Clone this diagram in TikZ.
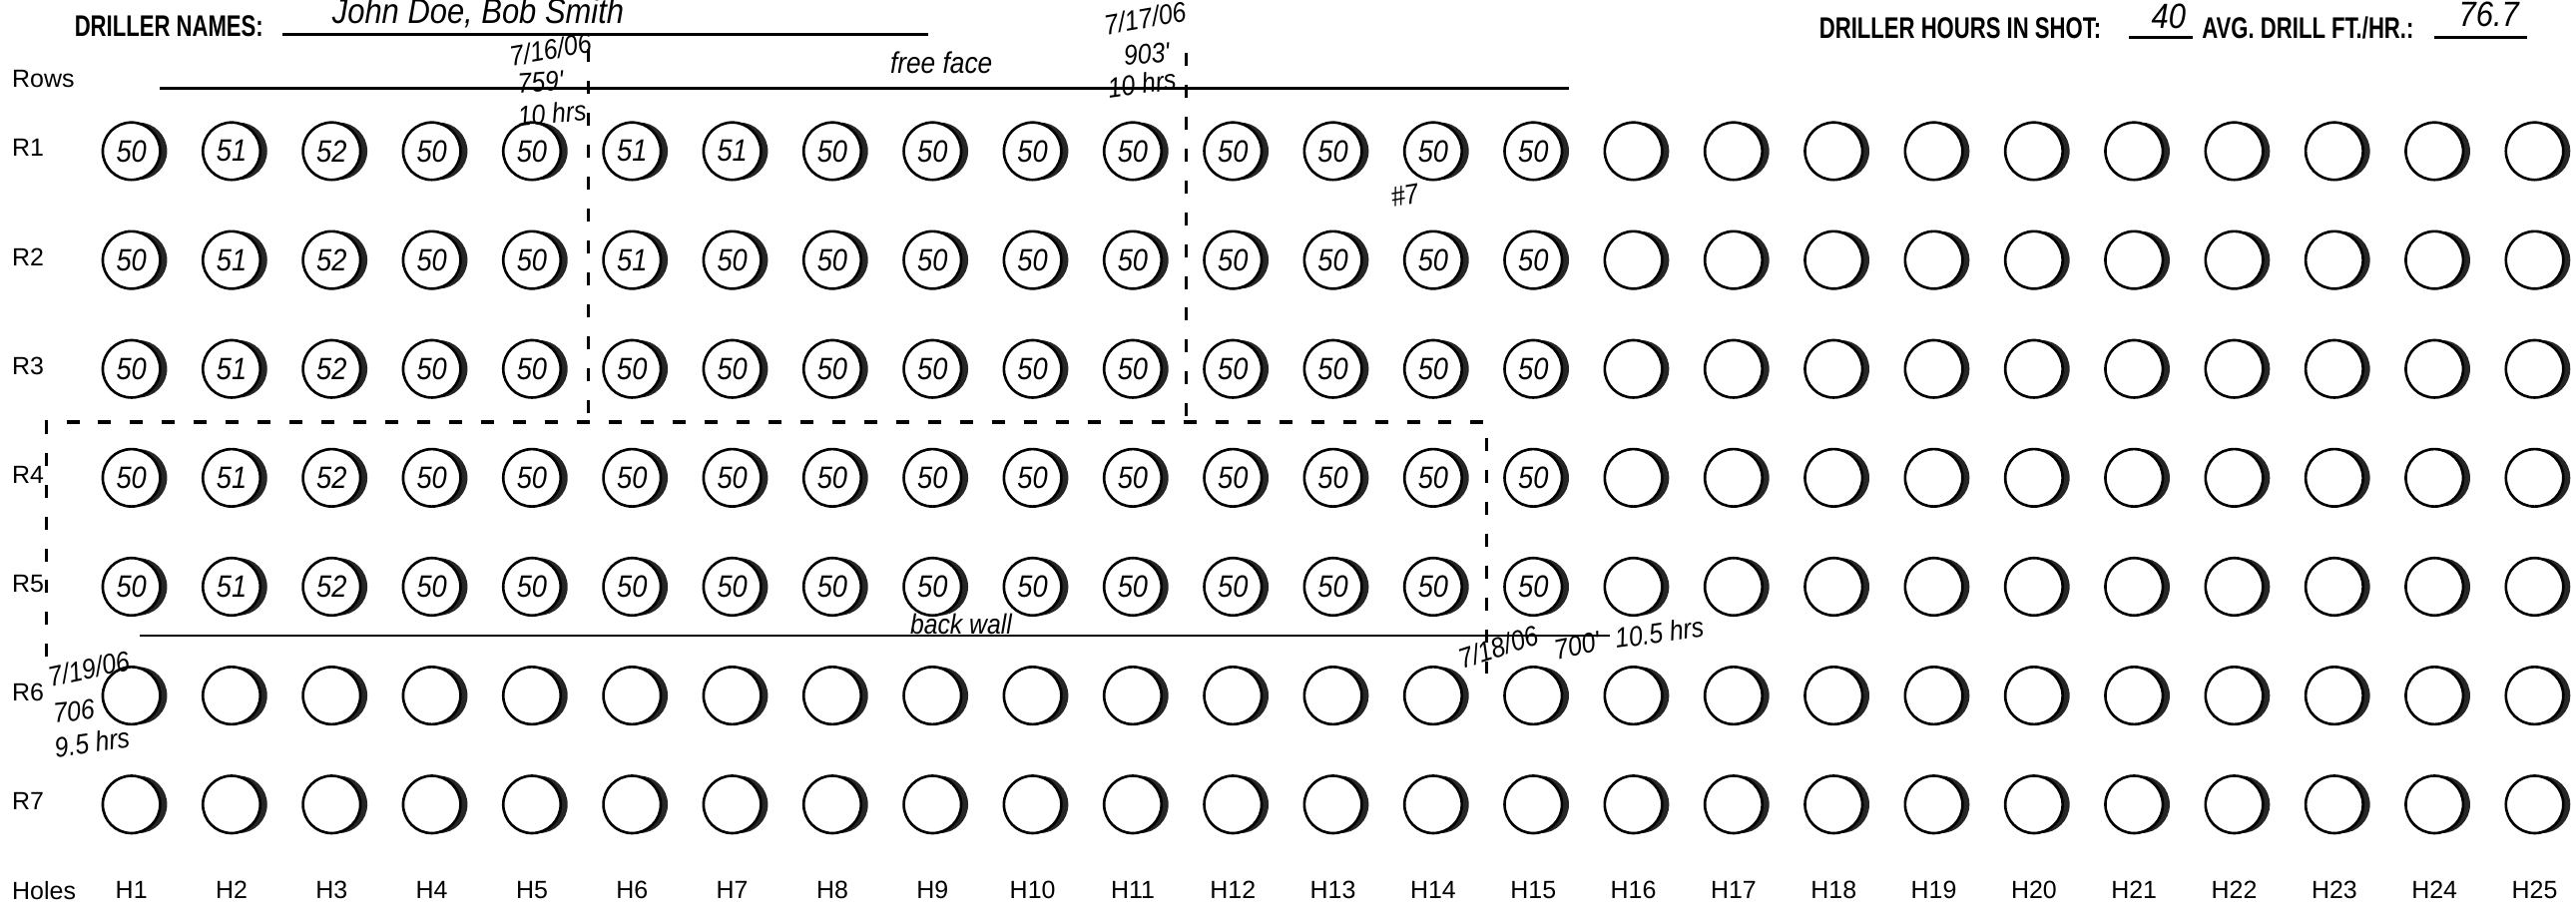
\documentclass[tikz,border=0pt]{standalone}
\usepackage{fontspec}
\setmainfont{Liberation Sans}
\newfontfamily\formfont[FakeStretch=0.74]{Liberation Sans}
\newfontfamily\handfont[FakeStretch=0.88]{Liberation Sans}
\usetikzlibrary{shadows}

\begin{document}
\begin{tikzpicture}[x=0.016461cm,y=-0.016461cm,
  hole/.style={circle,draw,line width=0.75pt,fill=white,minimum size=0.575cm,inner sep=0pt,
    font=\handfont\itshape\fontsize{8.8}{9}\selectfont,
    drop shadow={shadow xshift=0.07cm,shadow yshift=0cm,fill=black!85,opacity=1}},
  lab/.style={anchor=west,inner sep=0pt,font=\fontsize{7.1}{8}\selectfont},
  head/.style={anchor=west,inner sep=0pt,font=\formfont\bfseries\fontsize{8.5}{9}\selectfont},
  hand/.style={font=\handfont\itshape\fontsize{8.5}{9}\selectfont,inner sep=0pt},
  note/.style={font=\handfont\itshape\fontsize{8}{8}\selectfont,inner sep=0pt},
  face/.style={line width=0.8pt},
  cut/.style={line width=0.9pt,dash pattern=on 3.7pt off 5.4pt}]
\useasboundingbox (0,0) rectangle (1568,555);
% form header
\node[head] (names) at (45,16) {DRILLER NAMES:};
\draw[face] (172,21) -- (565,21);
\node[hand,font=\handfont\itshape\fontsize{10}{11}\selectfont] (crew) at (291,8) {John Doe, Bob Smith};
\node[head] (hours) at (1107,17) {DRILLER HOURS IN SHOT:};
\draw[face] (1296,23) -- (1335,23);
\node[hand,font=\handfont\itshape\fontsize{10}{11}\selectfont] (hoursval) at (1320,10) {40};
\node[head] (avg) at (1340,17) {AVG. DRILL FT./HR.:};
\draw[face] (1482,23) -- (1538,23);
\node[hand,font=\handfont\itshape\fontsize{10}{11}\selectfont] (avgval) at (1515,9) {76.7};
% hole grid
\foreach \r/\vals in {1/{50,51,52,50,50,51,51,50,50,50,50,50,50,50,50},
    2/{50,51,52,50,50,51,50,50,50,50,50,50,50,50,50},
    3/{50,51,52,50,50,50,50,50,50,50,50,50,50,50,50},
    4/{50,51,52,50,50,50,50,50,50,50,50,50,50,50,50},
    5/{50,51,52,50,50,50,50,50,50,50,50,50,50,50,50}}
  \foreach \v [count=\c] in \vals
    \node[hole] (h\r-\c) at (19.05+60.95*\c,25.7+66.3*\r) {\v};
\foreach \r in {1,...,5} \foreach \c in {16,...,25}
  \node[hole] (h\r-\c) at (19.05+60.95*\c,25.7+66.3*\r) {};
\foreach \r in {6,7} \foreach \c in {1,...,25}
  \node[hole] (h\r-\c) at (19.05+60.95*\c,25.7+66.3*\r) {};
% row and hole labels
\node[lab] (rows) at (7,48) {Rows};
\foreach \r in {1,...,7} \node[lab] (r\r) at (7,23.7+66.3*\r) {R\r};
\node[lab] (holes) at (7,542) {Holes};
\foreach \c in {1,...,25} \node[lab,anchor=center] (c\c) at (19.05+60.95*\c,542) {H\c};
% free face and back wall
\draw[face] (97,54) -- (955,54);
\node[hand] (freeface) at (573,38) {free face};
\draw[face] (85,387) -- (980,387);
\node[hand,font=\handfont\itshape\fontsize{8}{9}\selectfont] (backwall) at (585,380) {back wall};
% shot boundaries
\draw[cut] (358,30) -- (358,257);
\draw[cut] (722,32) -- (722,257);
\draw[cut] (28,400) -- (28,257) -- (905,257) -- (905,410);
% shift notes
\node[note,rotate=10] (date1) at (335,30) {7/16/06};
\node[note,rotate=4] (feet1) at (329,50) {759'};
\node[note,rotate=5] (time1) at (336,69) {10 hrs};
\node[note,rotate=10] (date2) at (697,11) {7/17/06};
\node[note,rotate=5] (feet2) at (698,33) {903'};
\node[note,rotate=8] (time2) at (695,51) {10 hrs};
\node[note,rotate=12] (date3) at (54,407) {7/19/06};
\node[note,rotate=6] (feet3) at (45,433) {706};
\node[note,rotate=8] (time3) at (56,452) {9.5 hrs};
\node[note,rotate=18] (date4) at (912,394) {7/18/06};
\node[note,rotate=12] (feet4) at (960,393) {700'};
\node[note,rotate=8] (time4) at (1010,385) {10.5 hrs};
\node[note,rotate=10] (tag) at (855,119) {\#7};
\end{tikzpicture}
\end{document}
